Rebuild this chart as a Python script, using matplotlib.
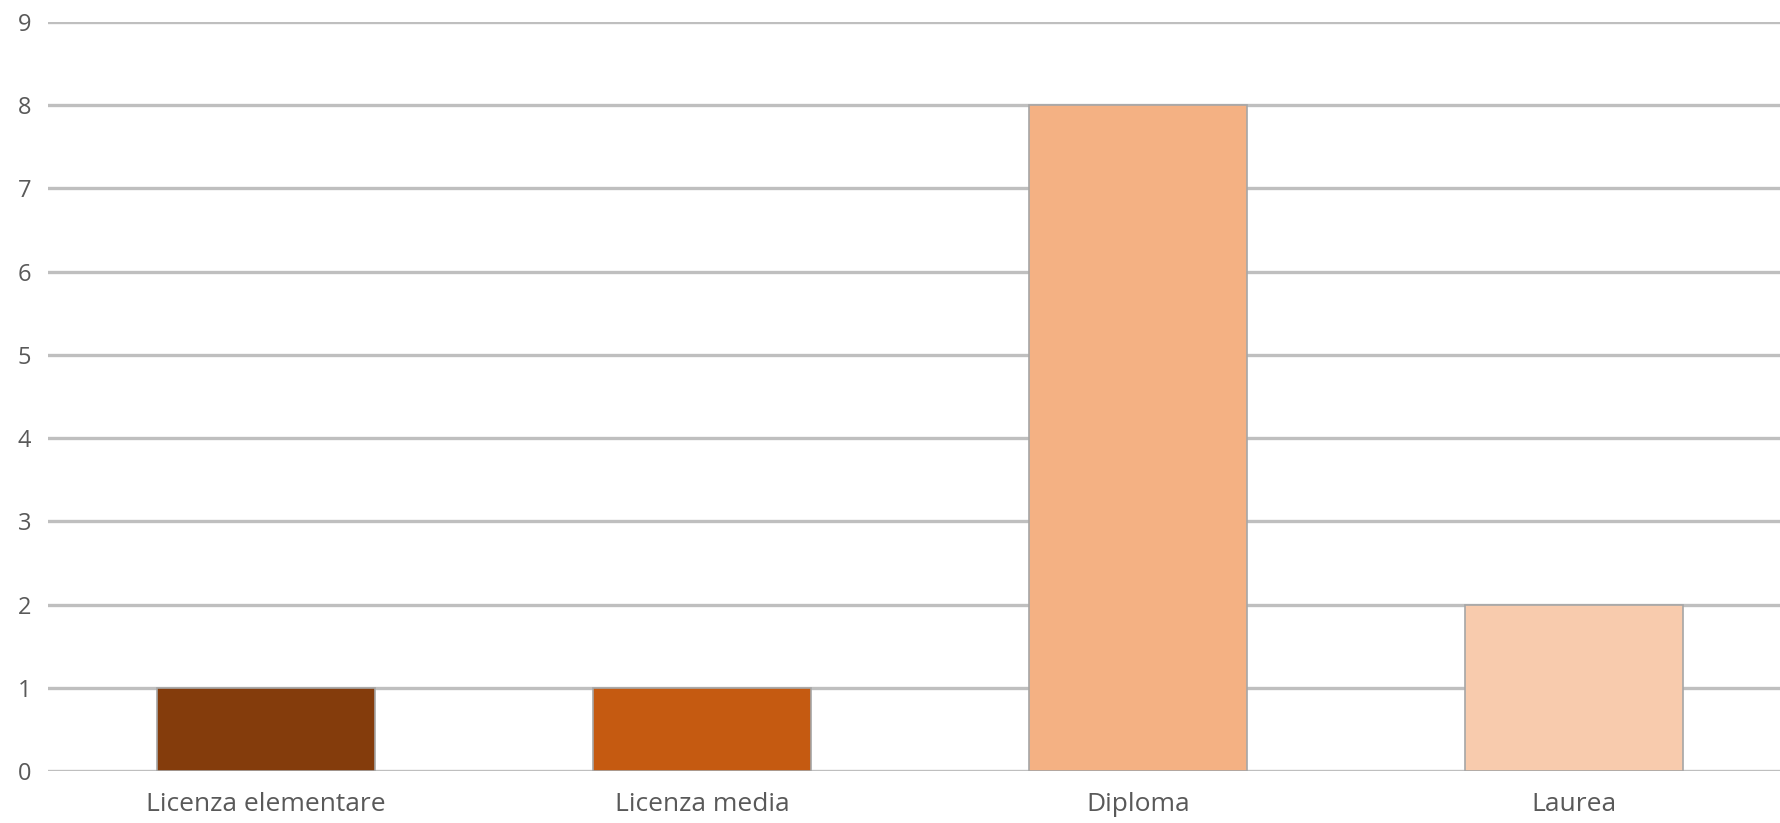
import matplotlib.pyplot as plt

# Data
categories = ["Licenza elementare", "Licenza media", "Diploma", "Laurea"]
values = [1, 1, 8, 2]
colors = ["#843C0C", "#C55A11", "#F4B183", "#F8CBAD"]
y_ticks = list(range(0, 10))

plt.rcParams['font.family'] = ['Open Sans', 'DejaVu Sans']

fig = plt.figure(figsize=(17.81, 8.23), dpi=100)
ax = fig.add_axes([48 / 1781, 52 / 823, 1 - 48 / 1781, (801 - 52) / 823])

ax.bar(range(len(categories)), values, width=0.5, color=colors,
       edgecolor="#A6A6A6", linewidth=1.2, zorder=3)

ax.set_ylim(0, 9)
ax.set_xlim(-0.5, -0.5 + (1781 - 48) / 436)
ax.set_yticks(y_ticks)
ax.set_xticks(range(len(categories)))
ax.set_xticklabels(categories)

ax.grid(axis="y", color="#BFBFBF", linewidth=2.4, zorder=0)
for s in ax.spines.values():
    s.set_visible(False)
ax.tick_params(axis="both", length=0, labelcolor="#595959")
ax.tick_params(axis="y", pad=12, labelsize=17)
ax.tick_params(axis="x", pad=15, labelsize=19)

fig.savefig("out.png", dpi=100)
